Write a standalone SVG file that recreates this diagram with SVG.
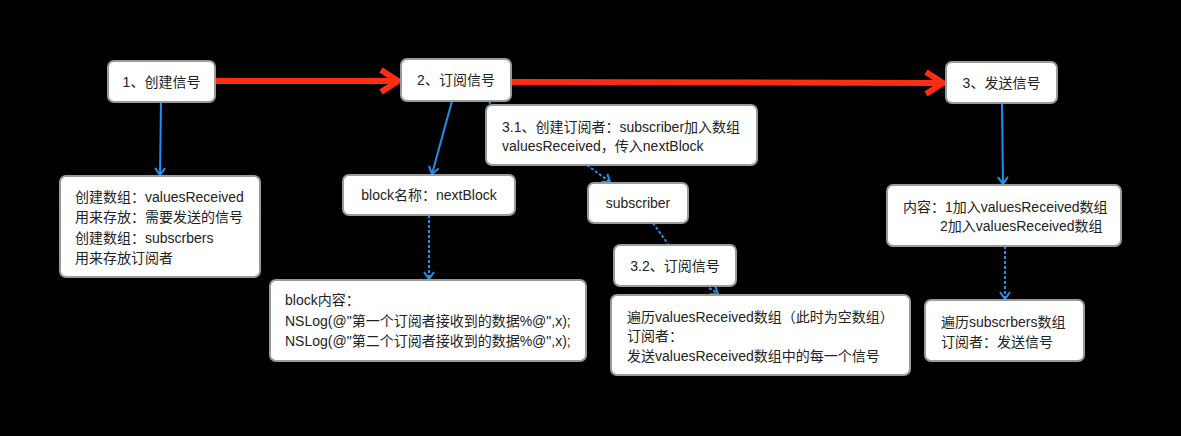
<svg xmlns="http://www.w3.org/2000/svg" width="1181" height="436" viewBox="0 0 1181 436">
<style>
.box{fill:#fff;stroke:#9a9a9a;stroke-width:2}
.t{font-family:"Liberation Sans","Noto Sans CJK SC",sans-serif;font-size:14px;fill:#222}
.c{text-anchor:middle}
.red{fill:none;stroke:#ff2d12;stroke-width:6}
.blue{fill:none;stroke:#2090f0;stroke-width:2}
.dash{stroke-dasharray:3 2}
</style>
<defs>
<marker id="ra" markerUnits="userSpaceOnUse" viewBox="-20 -14 24 28" refX="0" refY="0" markerWidth="24" markerHeight="28" orient="auto">
<path d="M-17,-11 L0,0 L-17,11" fill="none" stroke="#ff2d12" stroke-width="6"/>
</marker>
<marker id="ba" markerUnits="userSpaceOnUse" viewBox="-10 -7 12 14" refX="0" refY="0" markerWidth="12" markerHeight="14" orient="auto">
<path d="M-7,-5 L0,0 L-7,5" fill="none" stroke="#2090f0" stroke-width="2"/>
</marker>
</defs>
<rect width="1181" height="436" fill="#000"/>
<g id="connectors">
<path class="red" d="M215,81 L398,81" marker-end="url(#ra)"/>
<path class="red" d="M511,82 L943,83" marker-end="url(#ra)"/>
<path class="blue" d="M161,102 L160,175" marker-end="url(#ba)"/>
<path class="blue" d="M452,101 L432,174" marker-end="url(#ba)"/>
<path class="blue dash" d="M489,101 L491,105"/>
<path class="blue dash" d="M587,165 L610,182" marker-end="url(#ba)"/>
<path class="blue dash" d="M653,223 L668,244"/>
<path class="blue dash" d="M705,285 L718,294" marker-end="url(#ba)"/>
<path class="blue dash" d="M429,215 L429,279" marker-end="url(#ba)"/>
<path class="blue" d="M1002,103 L1003,184" marker-end="url(#ba)"/>
<path class="blue dash" d="M1005,246 L1005,299" marker-end="url(#ba)"/>
</g>
<g id="n1"><rect class="box" x="108" y="61" width="107" height="41" rx="6"/><text class="t c" x="161.5" y="87">1、创建信号</text></g>
<g id="n2"><rect class="box" x="401" y="59" width="110" height="42" rx="6"/><text class="t c" x="456" y="85">2、订阅信号</text></g>
<g id="n3"><rect class="box" x="946" y="62" width="111" height="41" rx="6"/><text class="t c" x="1001.5" y="88">3、发送信号</text></g>
<g id="n4"><rect class="box" x="60" y="176" width="200" height="101" rx="6"/>
<text class="t" x="75" y="202">创建数组：valuesReceived</text>
<text class="t" x="75" y="222">用来存放：需要发送的信号</text>
<text class="t" x="75" y="243">创建数组：subscrbers</text>
<text class="t" x="75" y="263">用来存放订阅者</text></g>
<g id="n5"><rect class="box" x="486" y="105" width="271" height="60" rx="6"/>
<text class="t" x="502" y="132">3.1、创建订阅者：subscriber加入数组</text>
<text class="t" x="502" y="151">valuesReceived，传入nextBlock</text></g>
<g id="n6"><rect class="box" x="343" y="175" width="172" height="40" rx="6"/><text class="t c" x="429" y="200">block名称：nextBlock</text></g>
<g id="n7"><rect class="box" x="588" y="183" width="100" height="40" rx="6"/><text class="t c" x="638" y="208">subscriber</text></g>
<g id="n8"><rect class="box" x="887" y="185" width="234" height="61" rx="6"/>
<text class="t" x="903" y="212">内容：1加入valuesReceived数组</text>
<text class="t" x="940" y="231">2加入valuesReceived数组</text></g>
<g id="n9"><rect class="box" x="614" y="245" width="122" height="41" rx="6"/><text class="t c" x="675" y="271">3.2、订阅信号</text></g>
<g id="n10"><rect class="box" x="270" y="280" width="316" height="81" rx="6"/>
<text class="t" x="285" y="305">block内容：</text>
<text class="t" x="285" y="326">NSLog(@"第一个订阅者接收到的数据%@",x);</text>
<text class="t" x="285" y="346">NSLog(@"第二个订阅者接收到的数据%@",x);</text></g>
<g id="n11"><rect class="box" x="611" y="295" width="299" height="80" rx="6"/>
<text class="t" x="627" y="322">遍历valuesReceived数组（此时为空数组）</text>
<text class="t" x="627" y="341">订阅者：</text>
<text class="t" x="627" y="361">发送valuesReceived数组中的每一个信号</text></g>
<g id="n12"><rect class="box" x="925" y="300" width="159" height="61" rx="6"/>
<text class="t" x="941" y="327">遍历subscrbers数组</text>
<text class="t" x="941" y="347">订阅者：发送信号</text></g>
</svg>
